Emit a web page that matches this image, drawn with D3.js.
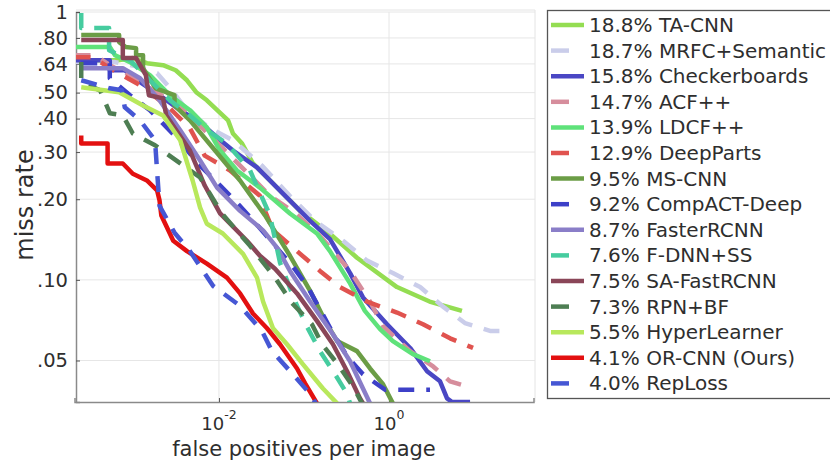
<!DOCTYPE html>
<html>
<head>
<meta charset="utf-8">
<script src="https://cdn.jsdelivr.net/npm/d3@7"></script>
<style>
  body { margin: 0; background: #fff; }
  text { font-family: "DejaVu Sans", sans-serif; fill: #2e2e2e; }
</style>
</head>
<body>
<div id="chart"></div>
<script>

// legend order, log-average miss rate in %
var methods = ["TA-CNN", "MRFC+Semantic", "Checkerboards", "ACF++", "LDCF++", "DeepParts",
               "MS-CNN", "CompACT-Deep", "FasterRCNN", "F-DNN+SS", "SA-FastRCNN", "RPN+BF",
               "HyperLearner", "OR-CNN (Ours)", "RepLoss"];
var lamr = [18.8, 18.7, 15.8, 14.7, 13.9, 12.9, 9.5, 9.2, 8.7, 7.6, 7.5, 7.3, 5.5, 4.1, 4.0];

var yTicks = [1, 0.8, 0.64, 0.5, 0.4, 0.3, 0.2, 0.1, 0.05];
var yTickLabels = ["1", ".80", ".64", ".50", ".40", ".30", ".20", ".10", ".05"];
var xTicks = [1e-2, 1e0];
var xTickExponents = ["-2", "0"];

// [false positives per image, miss rate]
var taCnn = [[0.0002,0.661],[0.00065,0.661],[0.00097,0.673],[0.00142,0.644],[0.0022,0.633],
  [0.0031,0.606],[0.0042,0.556],[0.0054,0.502],[0.0072,0.468],[0.0128,0.394],[0.0146,0.352],
  [0.0187,0.323],[0.0251,0.272],[0.0456,0.225],[0.09,0.181],[0.20,0.149],[0.42,0.121],
  [1.24,0.094],[3.0,0.083],[7.2,0.0766]];
var mrfcSemantic = [[0.0002,0.650],[0.0006,0.650],[0.00103,0.628],[0.00187,0.591],[0.0028,0.510],
  [0.0042,0.430],[0.0078,0.368],[0.0146,0.332],[0.032,0.267],[0.068,0.206],[0.135,0.166],
  [0.288,0.140],[0.551,0.118],[1.11,0.106],[2.32,0.094],[4.2,0.080],[7.8,0.069],[15.4,0.0645],
  [26.5,0.0645]];
var checkerboards = [[0.0002,0.661],[0.00052,0.661],[0.00052,0.606],[0.00078,0.606],[0.00118,0.547],
  [0.0020,0.489],[0.0035,0.430],[0.0060,0.387],[0.0095,0.340],[0.0146,0.304],[0.028,0.263],
  [0.0566,0.210],[0.118,0.166],[0.202,0.142],[0.348,0.106],[0.494,0.086],[0.947,0.0683],
  [1.77,0.0557],[2.8,0.0456],[3.98,0.0418],[4.81,0.0361],[5.51,0.0350],[8.97,0.0350]];
var acfPP = [[0.0002,0.690],[0.00035,0.690],[0.00052,0.633],[0.0009,0.581],[0.00154,0.519],
  [0.00265,0.468],[0.00456,0.411],[0.0078,0.346],[0.0135,0.291],[0.0232,0.245],[0.0398,0.206],
  [0.078,0.178],[0.154,0.146],[0.348,0.108],[0.598,0.083],[0.85,0.067],[1.77,0.0542],
  [3.3,0.0475],[5.22,0.0418],[7.42,0.0404]];
var ldcfPP = [[0.0002,0.740],[0.00052,0.740],[0.0006,0.690],[0.0009,0.650],[0.00154,0.581],
  [0.00265,0.489],[0.00456,0.430],[0.0072,0.371],[0.0103,0.304],[0.0163,0.256],[0.0303,0.221],
  [0.0684,0.177],[0.142,0.149],[0.202,0.128],[0.348,0.097],[0.52,0.0766],[0.784,0.0655],
  [1.11,0.0591],[1.91,0.0528],[3.03,0.0497]];
var deepParts = [[0.0002,0.678],[0.00033,0.678],[0.00052,0.617],[0.00118,0.533],[0.00265,0.437],
  [0.00456,0.368],[0.0068,0.291],[0.0135,0.256],[0.0303,0.206],[0.0348,0.181],[0.0432,0.153],
  [0.0828,0.128],[0.154,0.108],[0.265,0.094],[0.551,0.083],[1.24,0.0755],[2.51,0.0683],
  [5.22,0.0605],[9.73,0.0557]];
var msCnn = [[0.00024,0.820],[0.00067,0.820],[0.00067,0.772],[0.0008,0.740],[0.00106,0.733],
  [0.00106,0.690],[0.00128,0.690],[0.00128,0.617],[0.0018,0.519],[0.003,0.489],[0.003,0.448],
  [0.00456,0.394],[0.009,0.304],[0.0177,0.235],[0.0348,0.174],[0.0684,0.123],[0.118,0.091],
  [0.177,0.0703],[0.245,0.0591],[0.42,0.0542],[0.598,0.0467],[0.85,0.0408],[1.11,0.0346]];
var compactDeep = [[0.00024,0.644],[0.00052,0.644],[0.00052,0.566],[0.0009,0.489],[0.00154,0.430],
  [0.003,0.346],[0.006,0.267],[0.009,0.235],[0.0154,0.198],[0.0288,0.159],[0.0742,0.112],
  [0.111,0.094],[0.219,0.0633],[0.321,0.0519],[0.494,0.0444],[0.897,0.0389],[3.03,0.0389]];
var fasterRcnn = [[0.00024,0.617],[0.00074,0.617],[0.00118,0.566],[0.002,0.468],[0.0035,0.362],
  [0.006,0.279],[0.0095,0.221],[0.0177,0.181],[0.033,0.153],[0.0481,0.132],[0.0684,0.108],
  [0.118,0.083],[0.219,0.0627],[0.348,0.0497],[0.481,0.0400],[0.598,0.0346]];
var fdnnSS = [[0.00024,0.991],[0.00024,0.871],[0.00051,0.871],[0.00051,0.720],[0.0009,0.661],
  [0.00154,0.556],[0.00265,0.468],[0.00456,0.411],[0.0072,0.362],[0.0124,0.323],[0.0232,0.256],
  [0.0398,0.174],[0.0522,0.116],[0.0828,0.080],[0.108,0.067],[0.154,0.0542],[0.232,0.0444],
  [0.321,0.0375],[0.348,0.0346]];
var saFastRcnn = [[0.00024,0.786],[0.00074,0.786],[0.00074,0.673],[0.00106,0.673],[0.00138,0.581],
  [0.0015,0.489],[0.0022,0.476],[0.0024,0.411],[0.00456,0.304],[0.0068,0.225],[0.0103,0.177],
  [0.0213,0.140],[0.0303,0.123],[0.0456,0.110],[0.0828,0.089],[0.142,0.0703],[0.219,0.0575],
  [0.321,0.0456],[0.456,0.0361],[0.494,0.0346]];
var rpnBF = [[0.00024,0.650],[0.00024,0.547],[0.0004,0.510],[0.00052,0.419],[0.00074,0.411],
  [0.00097,0.352],[0.00177,0.318],[0.006,0.241],[0.0108,0.177],[0.0232,0.134],[0.0456,0.102],
  [0.0722,0.082],[0.124,0.0683],[0.163,0.0575],[0.245,0.0488],[0.377,0.0400],[0.481,0.0346]];
var hyperLearner = [[0.00024,0.524],[0.00067,0.502],[0.00128,0.448],[0.0022,0.411],[0.0035,0.332],
  [0.0049,0.235],[0.006,0.186],[0.0072,0.162],[0.0111,0.149],[0.0192,0.125],[0.028,0.102],
  [0.033,0.083],[0.0432,0.066],[0.0631,0.0575],[0.0974,0.0484],[0.167,0.0393],[0.245,0.0346]];
var orCnn = [[0.00024,0.346],[0.00024,0.323],[0.00049,0.323],[0.00049,0.272],[0.00074,0.272],
  [0.00097,0.249],[0.00142,0.235],[0.00187,0.216],[0.002,0.198],[0.0021,0.174],[0.0029,0.140],
  [0.0042,0.128],[0.0072,0.115],[0.0124,0.102],[0.0177,0.089],[0.0251,0.0749],[0.0367,0.066],
  [0.0522,0.0575],[0.0828,0.0467],[0.103,0.0411],[0.142,0.0346]];
var repLoss = [[0.00024,0.556],[0.00052,0.519],[0.00072,0.510],[0.00078,0.441],[0.00118,0.394],
  [0.00177,0.332],[0.00187,0.256],[0.002,0.189],[0.003,0.150],[0.00456,0.128],[0.0085,0.095],
  [0.0177,0.080],[0.032,0.0645],[0.042,0.0542],[0.0722,0.0448],[0.118,0.0375],[0.138,0.0346]];

var curves = [taCnn, mrfcSemantic, checkerboards, acfPP, ldcfPP, deepParts, msCnn, compactDeep,
              fasterRcnn, fdnnSS, saFastRcnn, rpnBF, hyperLearner, orCnn, repLoss];

// styles
var lineColors = ["#94dd52", "#cacdea", "#4a47c4", "#d68d9c", "#5fe27a", "#e0534f", "#6b9d46",
                  "#3d40c8", "#8a7ec8", "#46cc9f", "#8a4658", "#4e7e53", "#b8e85c", "#e31010", "#4657d4"];
var dashed = [false, true, false, true, false, true, false, true, false, true, false, true, false, false, true];

var W = 830, H = 464;
var plot = { l: 76, r: 535, t: 12, b: 402 };

var svg = d3.select("#chart").append("svg")
    .attr("width", W)
    .attr("height", H);

var x = d3.scaleLog().domain([2e-4, 50]).range([plot.l - 1.5, plot.r - 1.5]);
var y = d3.scaleLog().domain([0.035, 1]).range([plot.b, plot.t]);

svg.append("defs").append("clipPath")
    .attr("id", "plotClip")
    .append("rect")
    .attr("x", plot.l)
    .attr("y", plot.t - 2)
    .attr("width", plot.r - plot.l)
    .attr("height", plot.b - plot.t + 2);

// grid
var grid = svg.append("g").attr("class", "grid");
grid.selectAll(".hgrid").data(yTicks).enter().append("line")
    .attr("x1", plot.l).attr("x2", plot.r)
    .attr("y1", function(d) { return y(d); })
    .attr("y2", function(d) { return y(d); })
    .style("stroke", "#e6e6e6").style("stroke-width", "1px");
grid.selectAll(".vgrid").data(xTicks).enter().append("line")
    .attr("x1", function(d) { return x(d); })
    .attr("x2", function(d) { return x(d); })
    .attr("y1", plot.t).attr("y2", plot.b)
    .style("stroke", "#e6e6e6").style("stroke-width", "1px");

// box (top / right light)
svg.append("line").attr("x1", plot.l).attr("x2", plot.r).attr("y1", plot.t - 2).attr("y2", plot.t - 2)
    .style("stroke", "#e4e4e4");
svg.append("line").attr("x1", plot.r).attr("x2", plot.r).attr("y1", plot.t - 2).attr("y2", plot.b)
    .style("stroke", "#e4e4e4");

// axes
var yAxis = d3.axisLeft(y).tickValues(yTicks).tickSize(-4).tickPadding(8)
    .tickFormat(function(d, i) { return yTickLabels[i]; });
var gy = svg.append("g").attr("transform", "translate(" + plot.l + ",0)").call(yAxis);
gy.select(".domain").style("stroke", "#8a8a8a").style("stroke-width", "1.5px");
gy.selectAll(".tick line").style("stroke", "#555");
gy.selectAll(".tick text")
    .style("font-family", "DejaVu Sans, sans-serif")
    .style("font-size", "19.5px")
    .style("fill", "#2e2e2e");

var xAxis = d3.axisBottom(x).tickValues(xTicks).tickSize(-4).tickFormat("");
var gx = svg.append("g").attr("transform", "translate(0," + plot.b + ")").call(xAxis);
gx.select(".domain").style("stroke", "#8a8a8a").style("stroke-width", "1.5px");
gx.selectAll(".tick line").style("stroke", "#555");

var xl = svg.selectAll(".xlab").data(xTicks).enter().append("text")
    .attr("class", "xlab")
    .attr("x", function(d) { return x(d); })
    .attr("y", 430)
    .attr("text-anchor", "middle")
    .style("font-size", "18px");
xl.append("tspan").text("10");
xl.append("tspan")
    .attr("dy", -11)
    .style("font-size", "12.5px")
    .text(function(d, i) { return xTickExponents[i]; });

svg.append("text")
    .attr("x", 304)
    .attr("y", 456)
    .attr("text-anchor", "middle")
    .style("font-size", "21px")
    .text("false positives per image");

svg.append("text")
    .attr("transform", "translate(33,205) rotate(-90)")
    .attr("text-anchor", "middle")
    .style("font-size", "24px")
    .text("miss rate");

// curves
var line = d3.line()
    .x(function(d) { return x(d[0]); })
    .y(function(d) { return y(d[1]); });

svg.append("g")
    .attr("clip-path", "url(#plotClip)")
    .selectAll(".curve")
    .data(curves)
    .enter().append("path")
    .attr("class", "curve")
    .attr("d", line)
    .style("fill", "none")
    .style("stroke", function(d, i) { return lineColors[i]; })
    .style("stroke-width", "4.5px")
    .style("stroke-linejoin", "round")
    .style("stroke-dasharray", function(d, i) { return dashed[i] ? "16,12" : null; });

// legend
var lg = svg.append("g").attr("class", "legend");
lg.append("rect")
    .attr("x", 547.5).attr("y", 10.5)
    .attr("width", 300).attr("height", 388)
    .style("fill", "#fff")
    .style("stroke", "#555")
    .style("stroke-width", "1.3px");

var rows = lg.selectAll(".row").data(methods).enter().append("g")
    .attr("class", "row")
    .attr("transform", function(d, i) { return "translate(0," + (25 + i * 25.6) + ")"; });

rows.append("line")
    .attr("x1", 551).attr("x2", 584)
    .attr("y1", 0).attr("y2", 0)
    .style("stroke", function(d, i) { return lineColors[i]; })
    .style("stroke-width", "4.5px")
    .style("stroke-dasharray", function(d, i) { return dashed[i] ? "18,20" : null; });

rows.append("text")
    .attr("x", 589)
    .attr("y", 7)
    .style("font-size", "20px")
    .text(function(d, i) { return lamr[i].toFixed(1) + "% " + d; });

</script>
</body>
</html>
